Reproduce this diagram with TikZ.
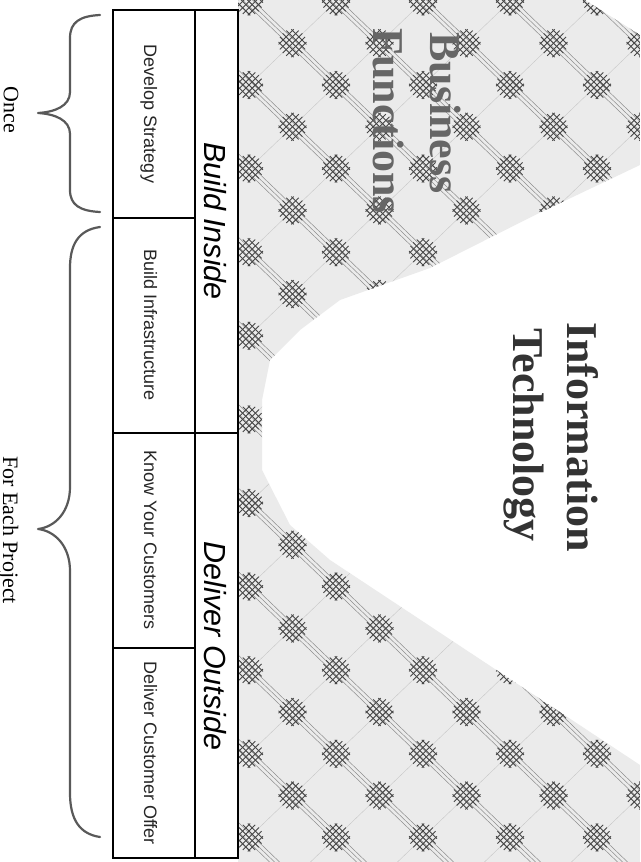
\documentclass[tikz,border=0pt]{standalone}
\usepackage{fontspec}
\setmainfont{Liberation Serif}
\setsansfont{Liberation Sans}
\usepackage{graphicx}
\tikzset{
  hatchbg/.style={fill=black!8},
  hatchline/.style={draw=black!45, line width=0.5pt},
  hatchlineb/.style={draw=black!22, line width=0.4pt},
  blob/.style={draw=black!72, line width=0.9pt},
  title/.style={rotate=-90, inner sep=0pt, text=black!80, font=\bfseries\fontsize{44}{50}\selectfont},
  titleb/.style={rotate=-90, inner sep=0pt, text=black!60, font=\bfseries\fontsize{44}{50}\selectfont},
  hdr/.style={rotate=-90, inner sep=0pt, font=\sffamily\itshape\fontsize{30.5}{34}\selectfont},
  cell/.style={rotate=-90, inner sep=0pt, text=black!85, font=\sffamily\fontsize{18}{20}\selectfont},
  lbl/.style={rotate=-90, inner sep=0pt, font=\fontsize{22}{24}\selectfont},
  tbl/.style={draw=black, line width=1.6pt},
  bracestyle/.style={draw=black!65, line width=2.2pt, line cap=round, line join=round}
}
\begin{document}
\begin{tikzpicture}[x=1pt, y=-1pt]
\useasboundingbox (0,0) rectangle (640,862);
\fill[white] (0,0) rectangle (640,862);
% halftone background
\begin{scope}
\clip (238,0) -- (585,0) -- (640,35) -- (640,165) -- (535,215) -- (430,268) -- (340,300) -- (300,330) -- (270,360) -- (262,400) -- (262,470) -- (290,525) -- (330,560) -- (640,765) -- (640,862) -- (238,862) -- cycle;
\fill[hatchbg] (230,0) rectangle (640,862);
\foreach \j in {-14,...,4} {
  \foreach \o in {-5,0,5} {
    \draw[hatchline] ({421.5+87*\j+\o-20.8},-20) -- ({421.5+87*\j+\o+936.6},900);
  }
}
\foreach \j in {-5,...,12} {
  \draw[hatchlineb] ({598.5+87*\j+20.8},-20) -- ({598.5+87*\j-936.6},900);
}
\foreach \n in {-2,...,21} {
  \pgfmathsetmacro\hxoff{mod(\n+100,2)*43.5}
  \foreach \i in {-4,...,2} {
    \begin{scope}[shift={({510+87*\i+\hxoff},{85+41.8*\n})}, rotate=45]
      \foreach \o/\l in {-9/10.7,-4.5/13.3,0/14,4.5/13.3,9/10.7} {
        \draw[blob] (\o,-\l) -- (\o,\l);
        \draw[blob] (-\l,\o) -- (\l,\o);
      }
    \end{scope}
  }
}
\end{scope}
% titles
\node[title, anchor=base] (info) at (567,437) {Information};
\node[title, anchor=base] (tech) at (513,435) {Technology};
\node[titleb, anchor=base west] (bus) at (430,32) {Business};
\node[titleb, anchor=base west] (fun) at (373,28) {Functions};
% table
\fill[white] (113,10) rectangle (238,858);
\draw[tbl] (113,10) rectangle (238,858);
\draw[tbl] (195,10) -- (195,858);
\draw[tbl] (113,433) -- (238,433);
\draw[tbl] (113,218) -- (195,218);
\draw[tbl] (113,648) -- (195,648);
\draw[line width=2.6pt] (238,10) -- (238,858);
\node[hdr, anchor=base] (bi) at (204,221) {Build Inside};
\node[hdr, anchor=base] (do) at (204,646) {Deliver Outside};
\node[cell, anchor=base] (c1) at (144,114) {Develop Strategy};
\node[cell, anchor=base] (c2) at (144,325) {Build Infrastructure};
\node[cell, anchor=base] (c3) at (144,540) {Know Your Customers};
\node[cell, anchor=base] (c4) at (144,753) {Deliver Customer Offer};
% braces
\draw[bracestyle] (100,15) .. controls (80,16) and (70,22) .. (70,38) -- (70,92) .. controls (70,106) and (55,112) .. (38,113) .. controls (55,114) and (70,120) .. (70,134) -- (70,190) .. controls (70,205) and (80,211) .. (100,212);
\draw[bracestyle] (100,227) .. controls (78,230) and (70,245) .. (70,268) -- (70,487) .. controls (70,512) and (55,527) .. (38,529) .. controls (55,531) and (70,546) .. (70,571) -- (70,793) .. controls (70,820) and (80,834) .. (100,837);
\node[lbl, anchor=base] (once) at (4,110) {Once};
\node[lbl, anchor=base] (fep) at (3,530) {For Each Project};
\end{tikzpicture}
\end{document}
